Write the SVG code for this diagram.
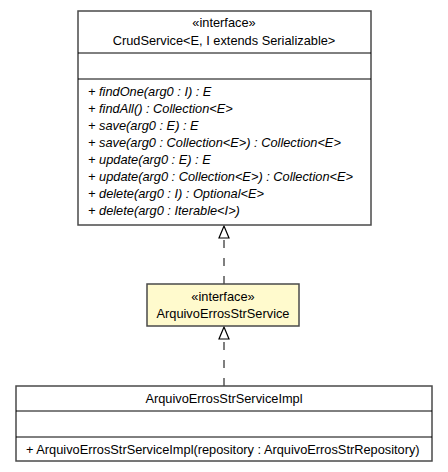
<svg xmlns="http://www.w3.org/2000/svg" width="448" height="472" viewBox="0 0 448 472">
<defs>
<style>
.box{fill:#ffffff;stroke:#4a4a4a;stroke-width:1.5}
.iface{fill:#fffacd;stroke:#4a4a4a;stroke-width:1.5}
.sep{stroke:#000;stroke-width:1}
text{font-family:"Liberation Sans",Arial,sans-serif;font-size:12.8px;fill:#000}
.c{text-anchor:middle}
.i{font-style:italic}
.dash{fill:none;stroke:#555;stroke-width:1.5;stroke-dasharray:8,10}
.head{fill:#fff;stroke:#000;stroke-width:1.2}
</style>
</defs>
<rect width="448" height="472" fill="#fff"/>
<g id="connectors">
<line class="dash" x1="224" y1="240" x2="224" y2="284"/>
<polygon class="head" points="224,226 219,238 229,238"/>
<line class="dash" x1="224" y1="342" x2="224" y2="386"/>
<polygon class="head" points="224,327 219,339 229,339"/>
</g>
<g id="CrudService">
<rect class="box" x="78" y="11" width="293" height="214"/>
<line class="sep" x1="78" y1="53" x2="371" y2="53"/>
<line class="sep" x1="78" y1="79" x2="371" y2="79"/>
<text class="c" x="224" y="27">«interface»</text>
<text class="c" x="224" y="45">CrudService&lt;E, I extends Serializable&gt;</text>
<text class="i" x="88" y="96">+ findOne(arg0 : I) : E</text>
<text class="i" x="88" y="113">+ findAll() : Collection&lt;E&gt;</text>
<text class="i" x="88" y="130">+ save(arg0 : E) : E</text>
<text class="i" x="88" y="147">+ save(arg0 : Collection&lt;E&gt;) : Collection&lt;E&gt;</text>
<text class="i" x="88" y="164">+ update(arg0 : E) : E</text>
<text class="i" x="88" y="181">+ update(arg0 : Collection&lt;E&gt;) : Collection&lt;E&gt;</text>
<text class="i" x="88" y="198">+ delete(arg0 : I) : Optional&lt;E&gt;</text>
<text class="i" x="88" y="215">+ delete(arg0 : Iterable&lt;I&gt;)</text>
</g>
<g id="ArquivoErrosStrService">
<rect class="iface" x="147" y="284" width="152" height="42"/>
<text class="c" x="223" y="301">«interface»</text>
<text class="c" x="223" y="318">ArquivoErrosStrService</text>
</g>
<g id="ArquivoErrosStrServiceImpl">
<rect class="box" x="16" y="386" width="416" height="75"/>
<line class="sep" x1="16" y1="411" x2="432" y2="411"/>
<line class="sep" x1="16" y1="437" x2="432" y2="437"/>
<text class="c" x="224" y="403">ArquivoErrosStrServiceImpl</text>
<text x="26" y="454">+ ArquivoErrosStrServiceImpl(repository : ArquivoErrosStrRepository)</text>
</g>
</svg>
